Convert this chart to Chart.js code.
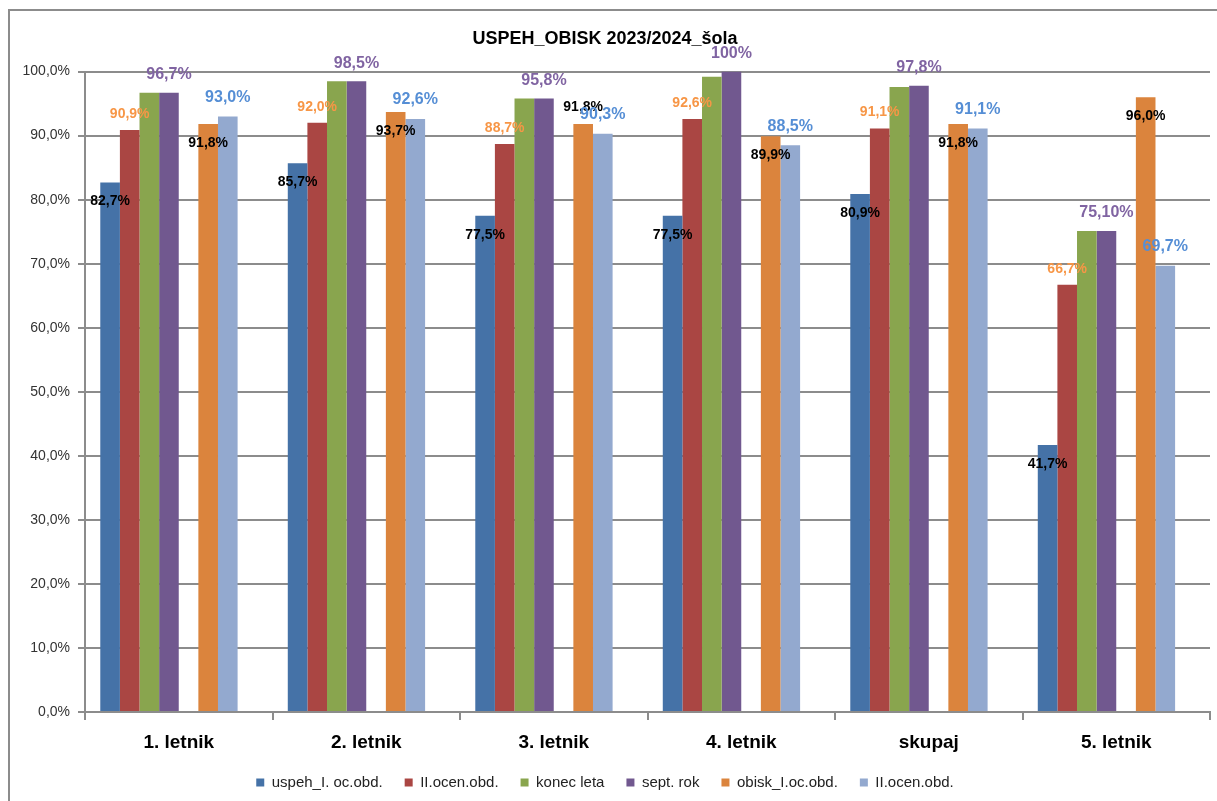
<!DOCTYPE html>
<html>
<head>
<meta charset="utf-8">
<script src="https://cdn.jsdelivr.net/npm/chart.js@4.4.1/dist/chart.umd.min.js"></script>
<style>
	html, body { margin: 0; padding: 0; background: #fff; }
	#frame { position: absolute; left: 8px; top: 9px; width: 1300px; height: 900px;
		border-top: 2px solid #8c8c8c; border-left: 2px solid #8c8c8c; }
	#wrap { position: absolute; left: 0; top: 0; width: 1217px; height: 801px; }
</style>
</head>
<body>
<div id="frame"></div>
<div id="wrap"><canvas id="myChart" width="1217" height="801"></canvas></div>
<script>
var _labels = ['1. letnik', '2. letnik', '3. letnik', '4. letnik', 'skupaj', '5. letnik'];

var uspehI    = [82.7, 85.7, 77.5, 77.5, 80.9, 41.7];
var uspehII   = [90.9, 92.0, 88.7, 92.6, 91.1, 66.7];
var konecLeta = [96.7, 98.5, 95.8, 99.2, 97.6, 75.1];
var septRok   = [96.7, 98.5, 95.8, 100.0, 97.8, 75.1];
var obiskI    = [91.8, 93.7, 91.8, 89.9, 91.8, 96.0];
var obiskII   = [93.0, 92.6, 90.3, 88.5, 91.1, 69.7];
var prazno    = [null, null, null, null, null, null];

// texts as written on the original chart for sept. rok
var septRokTexts = ['96,7%', '98,5%', '95,8%', '100%', '97,8%', '75,10%'];

function pct(v) {
	return v.toFixed(1).replace('.', ',') + '%';
}

// label style per dataset index (dy = label centre relative to bar top)
var _labelStyle = {
	0: { color: '#000000', size: 14, dy: 19 },
	1: { color: '#F79646', size: 14, dy: -16 },
	3: { color: '#8064A2', size: 16, dy: -18 },
	5: { color: '#000000', size: 14, dy: 19 },
	6: { color: '#558ED5', size: 16, dy: -19 }
};

var barLabels = {
	id: 'barLabels',
	afterDatasetsDraw: function(chart) {
		var ctx = chart.ctx;
		ctx.save();
		ctx.textAlign = 'center';
		ctx.textBaseline = 'middle';
		chart.data.datasets.forEach(function(ds, di) {
			var st = _labelStyle[di];
			if (!st) return;
			chart.getDatasetMeta(di).data.forEach(function(bar, i) {
				var v = ds.data[i];
				if (v == null) return;
				var txt = di == 3 ? septRokTexts[i] : pct(v);
				var dy = st.dy;
				if (di == 5 && i == 2) dy = -17; // sits above the bar in 3. letnik
				ctx.font = 'bold ' + st.size + 'px "Liberation Sans", Arial, sans-serif';
				ctx.fillStyle = st.color;
				ctx.fillText(txt, bar.x, bar.y + dy);
			});
		});
		ctx.restore();
	}
};

var _datasets = [
	{ label: 'uspeh_I. oc.obd.', data: uspehI,    backgroundColor: '#4572A7' },
	{ label: 'II.ocen.obd.',     data: uspehII,   backgroundColor: '#AA4643' },
	{ label: 'konec leta',       data: konecLeta, backgroundColor: '#89A54E' },
	{ label: 'sept. rok',        data: septRok,   backgroundColor: '#71588F' },
	{ label: '',                 data: prazno,    backgroundColor: 'rgba(0,0,0,0)' },
	{ label: 'obisk_I.oc.obd.',  data: obiskI,    backgroundColor: '#DB843D' },
	{ label: 'II.ocen.obd.',     data: obiskII,   backgroundColor: '#93A9CF' },
	{ label: '',                 data: prazno,    backgroundColor: 'rgba(0,0,0,0)' }
];

var _config = {
	type: 'bar',
	data: {
		labels: _labels,
		datasets: _datasets
	},
	plugins: [barLabels],
	options: {
		responsive: false,
		animation: false,
		datasets: {
			bar: {
				categoryPercentage: 0.837,
				barPercentage: 1.0,
				borderWidth: 0
			}
		},
		layout: {
			padding: { left: 0, right: 7, top: 0, bottom: 1 }
		},
		plugins: {
			title: {
				display: true,
				text: 'USPEH_OBISK 2023/2024_šola',
				color: '#000',
				font: { family: '"Liberation Sans", Arial, sans-serif', size: 18, weight: 'bold' },
				padding: { top: 28, bottom: 22 }
			},
			legend: {
				position: 'bottom',
				labels: {
					boxWidth: 8,
					boxHeight: 8,
					padding: 22,
					color: '#222',
					font: { family: '"Liberation Sans", Arial, sans-serif', size: 15, lineHeight: 1 },
					filter: function(item) { return item.text !== ''; }
				}
			},
			tooltip: { enabled: false }
		},
		scales: {
			x: {
				grid: {
					drawOnChartArea: false,
					drawTicks: true,
					tickLength: 8,
					color: '#8c8c8c',
					lineWidth: 2
				},
				border: { color: '#8c8c8c', width: 2 },
				ticks: {
					color: '#000',
					padding: 13,
					font: { family: '"Liberation Sans", Arial, sans-serif', size: 19, weight: 'bold', lineHeight: 1 }
				},
				afterFit: function(scale) { scale.height = 41; }
			},
			y: {
				min: 0,
				max: 100,
				ticks: {
					stepSize: 10,
					color: '#333',
					padding: 8,
					font: { family: '"Liberation Sans", Arial, sans-serif', size: 14 },
					callback: function(v) { return pct(v); }
				},
				grid: {
					color: '#8c8c8c',
					lineWidth: 2,
					tickLength: 7
				},
				border: { color: '#8c8c8c', width: 2 },
				afterFit: function(scale) { scale.width = 85; }
			}
		}
	}
};

var myChart = new Chart(document.getElementById('myChart'), _config);
</script>
</body>
</html>
